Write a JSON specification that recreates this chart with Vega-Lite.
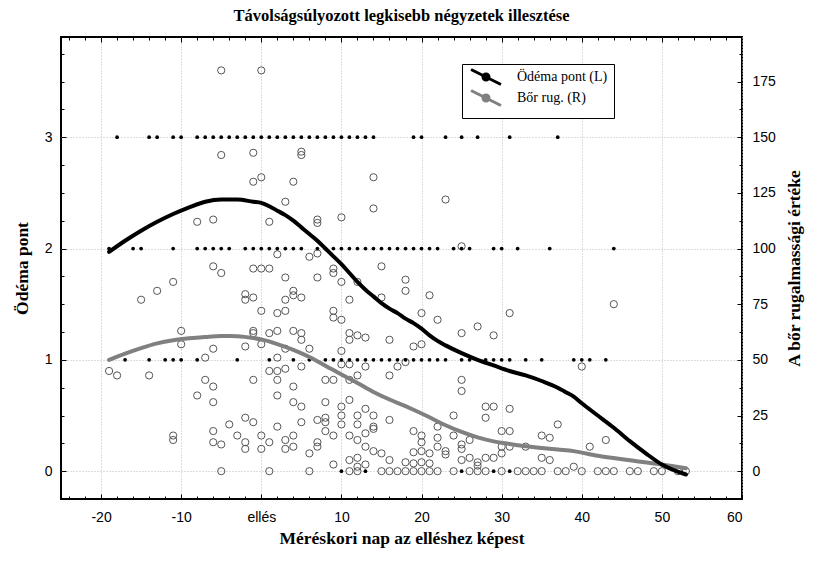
{
 "$schema": "https://vega.github.io/schema/vega-lite/v6.json",
 "width": 681, "height": 462,
 "autosize": {"type": "none"},
 "padding": {"left": 61, "top": 37, "right": 71, "bottom": 62},
 "background": "white",
 "title": {"text": "Távolságsúlyozott legkisebb négyzetek illesztése", "font": "Liberation Serif", "fontSize": 16.5, "fontWeight": "bold", "color": "black", "offset": 12},
 "config": {
  "view": {"stroke": "black", "strokeWidth": 2},
  "axis": {"labelFont": "Liberation Sans", "labelFontSize": 14, "labelColor": "black", "titleFont": "Liberation Serif", "titleFontSize": 17.5, "titleFontWeight": "bold", "titleColor": "black", "domain": false, "tickColor": "black", "gridColor": "#bbbbbb", "gridDash": [1, 2], "gridWidth": 1},
  "legend": {"orient": "none", "legendX": 401, "legendY": 27, "strokeColor": "black", "fillColor": "white", "padding": 6, "labelFont": "Liberation Serif", "labelFontSize": 14, "labelColor": "black", "symbolStrokeWidth": 3, "rowPadding": -16}
 },
 "datasets": {
  "dots": [
   {"day": -18, "score": 3}, {"day": -14, "score": 3}, {"day": -13, "score": 3}, {"day": -11, "score": 3}, {"day": -10, "score": 3},
   {"day": -8, "score": 3}, {"day": -7, "score": 3}, {"day": -6, "score": 3}, {"day": -5, "score": 3}, {"day": -4, "score": 3},
   {"day": -3, "score": 3}, {"day": -2, "score": 3}, {"day": -1, "score": 3}, {"day": 0, "score": 3}, {"day": 1, "score": 3},
   {"day": 2, "score": 3}, {"day": 3, "score": 3}, {"day": 4, "score": 3}, {"day": 5, "score": 3}, {"day": 6, "score": 3},
   {"day": 7, "score": 3}, {"day": 8, "score": 3}, {"day": 9, "score": 3}, {"day": 10, "score": 3}, {"day": 11, "score": 3},
   {"day": 12, "score": 3}, {"day": 13, "score": 3}, {"day": 14, "score": 3}, {"day": 19, "score": 3}, {"day": 20, "score": 3},
   {"day": 23, "score": 3}, {"day": 25, "score": 3}, {"day": 27, "score": 3}, {"day": 31, "score": 3}, {"day": 37, "score": 3},
   {"day": -19, "score": 2}, {"day": -16, "score": 2}, {"day": -15, "score": 2}, {"day": -11, "score": 2}, {"day": -8, "score": 2},
   {"day": -7, "score": 2}, {"day": -6, "score": 2}, {"day": -5, "score": 2}, {"day": -4, "score": 2}, {"day": -2, "score": 2},
   {"day": -1, "score": 2}, {"day": 0, "score": 2}, {"day": 1, "score": 2}, {"day": 2, "score": 2}, {"day": 3, "score": 2},
   {"day": 4, "score": 2}, {"day": 5, "score": 2}, {"day": 7, "score": 2}, {"day": 8, "score": 2}, {"day": 9, "score": 2},
   {"day": 10, "score": 2}, {"day": 11, "score": 2}, {"day": 12, "score": 2}, {"day": 13, "score": 2}, {"day": 14, "score": 2},
   {"day": 15, "score": 2}, {"day": 16, "score": 2}, {"day": 17, "score": 2}, {"day": 18, "score": 2}, {"day": 19, "score": 2},
   {"day": 20, "score": 2}, {"day": 21, "score": 2}, {"day": 22, "score": 2}, {"day": 24, "score": 2}, {"day": 25, "score": 2},
   {"day": 26, "score": 2}, {"day": 29, "score": 2}, {"day": 30, "score": 2}, {"day": 32, "score": 2}, {"day": 36, "score": 2},
   {"day": 44, "score": 2},
   {"day": -17, "score": 1}, {"day": -14, "score": 1}, {"day": -12, "score": 1}, {"day": -11, "score": 1}, {"day": -10, "score": 1},
   {"day": -8, "score": 1}, {"day": -3, "score": 1}, {"day": 1, "score": 1}, {"day": 4, "score": 1}, {"day": 6, "score": 1},
   {"day": 8, "score": 1}, {"day": 9, "score": 1}, {"day": 10, "score": 1}, {"day": 11, "score": 1}, {"day": 12, "score": 1},
   {"day": 13, "score": 1}, {"day": 14, "score": 1}, {"day": 15, "score": 1}, {"day": 16, "score": 1}, {"day": 17, "score": 1},
   {"day": 18, "score": 1}, {"day": 19, "score": 1}, {"day": 20, "score": 1}, {"day": 21, "score": 1}, {"day": 22, "score": 1},
   {"day": 23, "score": 1}, {"day": 25, "score": 1}, {"day": 26, "score": 1}, {"day": 28, "score": 1}, {"day": 29, "score": 1},
   {"day": 30, "score": 1}, {"day": 31, "score": 1}, {"day": 33, "score": 1}, {"day": 35, "score": 1}, {"day": 39, "score": 1},
   {"day": 40, "score": 1}, {"day": 41, "score": 1}, {"day": 43, "score": 1},
   {"day": 10, "score": 0}, {"day": 13, "score": 0}, {"day": 25, "score": 0}, {"day": 29, "score": 0}, {"day": 31, "score": 0}
  ],
  "circles": [
   {"day": -5, "r": 180}, {"day": 0, "r": 180},
   {"day": -5, "r": 142}, {"day": -1, "r": 143}, {"day": 5, "r": 143.5}, {"day": 5, "r": 142},
   {"day": -1, "r": 130}, {"day": 0, "r": 132}, {"day": 4, "r": 130}, {"day": 14, "r": 132},
   {"day": 3, "r": 121}, {"day": 14, "r": 118}, {"day": 23, "r": 122},
   {"day": -8, "r": 112}, {"day": -6, "r": 113}, {"day": 1, "r": 112}, {"day": 7, "r": 113}, {"day": 7, "r": 111.5}, {"day": 10, "r": 114},
   {"day": 25, "r": 101},
   {"day": 2, "r": 97.4}, {"day": 6, "r": 96.3}, {"day": 7, "r": 97.8},
   {"day": -6, "r": 92}, {"day": -5, "r": 89},
   {"day": -1, "r": 91}, {"day": 0, "r": 91}, {"day": 1, "r": 91}, {"day": 15, "r": 92}, {"day": 9, "r": 91}, {"day": 9, "r": 89},
   {"day": 3, "r": 87}, {"day": 7, "r": 87}, {"day": 10, "r": 85}, {"day": 12, "r": 85},
   {"day": 18, "r": 86}, {"day": 18, "r": 81}, {"day": 21, "r": 79}, {"day": 20, "r": 71}, {"day": 22, "r": 68}, {"day": 27, "r": 65}, {"day": 25, "r": 62}, {"day": 29, "r": 61}, {"day": 31, "r": 71},
   {"day": -11, "r": 85}, {"day": -13, "r": 81}, {"day": -15, "r": 77},
   {"day": -2, "r": 79.5}, {"day": -2, "r": 77}, {"day": -1, "r": 78}, {"day": 4, "r": 81}, {"day": 4, "r": 79}, {"day": 3, "r": 77}, {"day": 5, "r": 78}, {"day": 11, "r": 77}, {"day": 15, "r": 78},
   {"day": 0, "r": 72}, {"day": 2, "r": 71}, {"day": 3, "r": 72}, {"day": 9, "r": 72}, {"day": 9, "r": 69}, {"day": 10, "r": 68},
   {"day": -10, "r": 63}, {"day": -10, "r": 57}, {"day": -6, "r": 55}, {"day": -7, "r": 51},
   {"day": -1, "r": 63}, {"day": -1, "r": 62}, {"day": 1, "r": 62}, {"day": 2, "r": 63}, {"day": 4, "r": 63}, {"day": 5, "r": 62}, {"day": 5, "r": 59}, {"day": 11, "r": 62}, {"day": 11, "r": 59}, {"day": 12, "r": 61}, {"day": 13, "r": 60}, {"day": 16, "r": 59},
   {"day": -2, "r": 56}, {"day": 0, "r": 57}, {"day": 3, "r": 55}, {"day": 6, "r": 55}, {"day": 10, "r": 54},
   {"day": 19, "r": 56}, {"day": 20, "r": 57}, {"day": 2, "r": 51},
   {"day": 10, "r": 48}, {"day": 11, "r": 48}, {"day": 13, "r": 47}, {"day": 5, "r": 47}, {"day": 17, "r": 47}, {"day": 18, "r": 49},
   {"day": -19, "r": 45}, {"day": -18, "r": 43}, {"day": -14, "r": 43},
   {"day": 1, "r": 45}, {"day": 2, "r": 45}, {"day": 3, "r": 46},
   {"day": -7, "r": 41}, {"day": -6, "r": 38}, {"day": -8, "r": 34}, {"day": -6, "r": 31},
   {"day": -1, "r": 41}, {"day": 2, "r": 41}, {"day": 8, "r": 41}, {"day": 9, "r": 41}, {"day": 11, "r": 41}, {"day": 12, "r": 43}, {"day": 16, "r": 43},
   {"day": 25, "r": 41}, {"day": 25, "r": 36},
   {"day": 4, "r": 38}, {"day": 2, "r": 34},
   {"day": 4, "r": 31}, {"day": 5, "r": 29}, {"day": 8, "r": 31}, {"day": 10, "r": 29}, {"day": 11, "r": 32}, {"day": 13, "r": 28},
   {"day": 28, "r": 29}, {"day": 29, "r": 29}, {"day": 28, "r": 24}, {"day": 31, "r": 28}, {"day": 24, "r": 25},
   {"day": 10, "r": 25}, {"day": 12, "r": 25}, {"day": 14, "r": 25},
   {"day": -2, "r": 24}, {"day": -1, "r": 22}, {"day": -4, "r": 21}, {"day": 2, "r": 20}, {"day": 5, "r": 22}, {"day": 7, "r": 23}, {"day": 8, "r": 24}, {"day": 8, "r": 22}, {"day": 10, "r": 21}, {"day": 12, "r": 21}, {"day": 14, "r": 20}, {"day": 14, "r": 19}, {"day": 16, "r": 23},
   {"day": 37, "r": 21},
   {"day": -11, "r": 16}, {"day": -11, "r": 14}, {"day": -6, "r": 18}, {"day": -6, "r": 13}, {"day": -5, "r": 12},
   {"day": -3, "r": 16}, {"day": -2, "r": 13}, {"day": -2, "r": 10}, {"day": 0, "r": 16}, {"day": 1, "r": 13}, {"day": 0, "r": 10}, {"day": 3, "r": 14}, {"day": 3, "r": 10}, {"day": 4, "r": 16}, {"day": 4, "r": 11}, {"day": 7, "r": 13}, {"day": 7, "r": 11}, {"day": 8, "r": 18}, {"day": 9, "r": 16}, {"day": 11, "r": 16}, {"day": 12, "r": 14}, {"day": 13, "r": 17}, {"day": 13, "r": 11},
   {"day": 14, "r": 9}, {"day": 15, "r": 8}, {"day": 16, "r": 5},
   {"day": 6, "r": 8}, {"day": 9, "r": 3}, {"day": 11, "r": 5}, {"day": 12, "r": 6}, {"day": 12, "r": 2}, {"day": 13, "r": 3},
   {"day": 19, "r": 18}, {"day": 20, "r": 16}, {"day": 20, "r": 13}, {"day": 22, "r": 20}, {"day": 22, "r": 15}, {"day": 22, "r": 11}, {"day": 23, "r": 9}, {"day": 23, "r": 7.5}, {"day": 21, "r": 8}, {"day": 21, "r": 3.5}, {"day": 20, "r": 9}, {"day": 20, "r": 4}, {"day": 19, "r": 8.5}, {"day": 19, "r": 3.5}, {"day": 18, "r": 4},
   {"day": 24, "r": 16}, {"day": 25, "r": 12}, {"day": 25, "r": 10}, {"day": 26, "r": 14}, {"day": 25, "r": 5}, {"day": 26, "r": 6}, {"day": 27, "r": 4}, {"day": 27, "r": 2.5}, {"day": 28, "r": 6}, {"day": 29, "r": 6}, {"day": 30, "r": 8}, {"day": 30, "r": 11}, {"day": 31, "r": 11}, {"day": 30, "r": 18}, {"day": 31, "r": 18}, {"day": 33, "r": 11}, {"day": 35, "r": 16}, {"day": 36, "r": 15}, {"day": 35, "r": 6}, {"day": 36, "r": 5}, {"day": 39, "r": 2},
   {"day": 44, "r": 75}, {"day": 40, "r": 47}, {"day": 43, "r": 14}, {"day": 41, "r": 11},
   {"day": -5, "r": 0}, {"day": 1, "r": 0}, {"day": 6, "r": 0}, {"day": 11, "r": 0}, {"day": 12, "r": 0}, {"day": 15, "r": 0}, {"day": 16, "r": 0}, {"day": 17, "r": 0}, {"day": 18, "r": 0}, {"day": 19, "r": 0}, {"day": 20, "r": 0}, {"day": 21, "r": 0}, {"day": 22, "r": 0}, {"day": 24, "r": 0}, {"day": 26, "r": 0}, {"day": 27, "r": 0}, {"day": 28, "r": 0}, {"day": 30, "r": 0}, {"day": 32, "r": 0}, {"day": 33, "r": 0}, {"day": 34, "r": 0}, {"day": 35, "r": 0}, {"day": 37, "r": 0}, {"day": 38, "r": 0}, {"day": 40, "r": 0}, {"day": 42, "r": 0}, {"day": 43, "r": 0}, {"day": 44, "r": 0}, {"day": 46, "r": 0}, {"day": 47, "r": 0}, {"day": 49, "r": 0}, {"day": 50, "r": 0}, {"day": 52, "r": 0}, {"day": 53, "r": 0}
  ],
  "oedemaFit": [
   {"day": -19, "score": 1.97}, {"day": -17, "score": 2.07}, {"day": -15, "score": 2.16}, {"day": -13, "score": 2.24}, {"day": -11, "score": 2.31},
   {"day": -9, "score": 2.37}, {"day": -7, "score": 2.42}, {"day": -5, "score": 2.44}, {"day": -3, "score": 2.44}, {"day": -1, "score": 2.42},
   {"day": 0, "score": 2.41}, {"day": 1, "score": 2.38}, {"day": 2, "score": 2.34}, {"day": 3, "score": 2.3}, {"day": 4, "score": 2.25},
   {"day": 5, "score": 2.19}, {"day": 6, "score": 2.13}, {"day": 7, "score": 2.07}, {"day": 8, "score": 2.0}, {"day": 9, "score": 1.93},
   {"day": 10, "score": 1.86}, {"day": 11, "score": 1.78}, {"day": 12, "score": 1.7}, {"day": 13, "score": 1.63}, {"day": 14, "score": 1.57},
   {"day": 15, "score": 1.51}, {"day": 16, "score": 1.46}, {"day": 17, "score": 1.42}, {"day": 18, "score": 1.37}, {"day": 19, "score": 1.33},
   {"day": 20, "score": 1.28}, {"day": 21, "score": 1.22}, {"day": 22, "score": 1.17}, {"day": 23, "score": 1.13}, {"day": 25, "score": 1.06},
   {"day": 27, "score": 1.0}, {"day": 29, "score": 0.95}, {"day": 31, "score": 0.9}, {"day": 33, "score": 0.86}, {"day": 35, "score": 0.81},
   {"day": 37, "score": 0.75}, {"day": 38, "score": 0.71}, {"day": 39, "score": 0.67}, {"day": 40, "score": 0.61}, {"day": 42, "score": 0.5},
   {"day": 44, "score": 0.39}, {"day": 46, "score": 0.27}, {"day": 48, "score": 0.16}, {"day": 50, "score": 0.06}, {"day": 53, "score": -0.03}
  ],
  "skinFit": [
   {"day": -19, "r": 50}, {"day": -17, "r": 52.8}, {"day": -15, "r": 55.3}, {"day": -13, "r": 57.4}, {"day": -11, "r": 58.8},
   {"day": -9, "r": 59.7}, {"day": -7, "r": 60.3}, {"day": -5, "r": 60.7}, {"day": -4, "r": 60.7}, {"day": -3, "r": 60.6},
   {"day": -1, "r": 59.8}, {"day": 0, "r": 59.2}, {"day": 2, "r": 57.1}, {"day": 4, "r": 54.5}, {"day": 6, "r": 51.3},
   {"day": 8, "r": 47.4}, {"day": 10, "r": 43.4}, {"day": 12, "r": 39.6}, {"day": 14, "r": 35.6}, {"day": 16, "r": 32.2},
   {"day": 18, "r": 29.2}, {"day": 19, "r": 27.6}, {"day": 21, "r": 24.2}, {"day": 23, "r": 20.6}, {"day": 25, "r": 17.6},
   {"day": 27, "r": 15.2}, {"day": 29, "r": 13.4}, {"day": 31, "r": 12.2}, {"day": 33, "r": 11.2}, {"day": 35, "r": 10.4},
   {"day": 37, "r": 9.7}, {"day": 39, "r": 9.0}, {"day": 42, "r": 6.9}, {"day": 46, "r": 4.9}, {"day": 50, "r": 3.0}, {"day": 53, "r": 1.3}
  ]
 },
 "layer": [
  {
   "data": {"name": "circles"},
   "mark": {"type": "point", "filled": false, "stroke": "#555555", "strokeWidth": 1, "size": 52, "opacity": 1},
   "encoding": {
    "x": {"field": "day", "type": "quantitative", "scale": {"domain": [-25, 60], "nice": false, "zero": false},
          "axis": {"orient": "top", "values": [-20, -10, 0, 10, 20, 30, 40, 50], "labels": false, "tickSize": -5, "grid": false, "title": null}},
    "y": {"field": "r", "type": "quantitative", "scale": {"domain": [-12.5, 195], "nice": false, "zero": false},
          "axis": {"orient": "right", "values": [0, 25, 50, 75, 100, 125, 150, 175], "tickSize": -5, "labelPadding": 15, "grid": false, "title": "A bőr rugalmassági értéke", "titleAngle": -90, "titlePadding": 28}}
   }
  },
  {
   "data": {"name": "dots"},
   "mark": {"type": "circle", "color": "black", "size": 14, "opacity": 1},
   "encoding": {
    "x": {"field": "day", "type": "quantitative", "scale": {"domain": [-25, 60], "nice": false, "zero": false},
          "axis": {"orient": "bottom", "values": [-20, -10, 0, 10, 20, 30, 40, 50, 60], "tickSize": -5, "labelPadding": 16, "grid": true,
                   "labelExpr": "datum.value === 0 ? 'ellés' : '' + datum.value", "title": "Méréskori nap az elléshez képest", "titlePadding": 5}},
    "y": {"field": "score", "type": "quantitative", "scale": {"domain": [-0.25, 3.9], "nice": false, "zero": false},
          "axis": {"orient": "left", "values": [0, 1, 2, 3], "tickSize": -5, "labelPadding": 14, "grid": true, "title": "Ödéma pont", "titlePadding": 13}}
   }
  },
  {
   "data": {"name": "skinFit"},
   "mark": {"type": "line", "strokeWidth": 4, "interpolate": "monotone", "strokeCap": "round"},
   "encoding": {
    "x": {"field": "day", "type": "quantitative", "scale": {"domain": [-25, 60], "nice": false, "zero": false},
          "axis": {"orient": "top", "values": [-24, -22, -18, -16, -14, -12, -8, -6, -4, -2, 2, 4, 6, 8, 12, 14, 16, 18, 22, 24, 26, 28, 32, 34, 36, 38, 42, 44, 46, 48, 52, 54, 56, 58], "labels": false, "tickSize": -3, "grid": false, "title": null}},
    "y": {"field": "r", "type": "quantitative", "scale": {"domain": [-12.5, 195], "nice": false, "zero": false},
          "axis": {"orient": "right", "values": [12.5, 37.5, 62.5, 87.5, 112.5, 137.5, 162.5, 187.5], "labels": false, "tickSize": -3, "grid": false, "title": null}},
    "color": {"datum": "Bőr rug. (R)", "type": "nominal", "scale": {"domain": ["Ödéma pont (L)", "Bőr rug. (R)"], "range": ["#000000", "#808080"]},
              "legend": {"title": null, "symbolType": "M-4,-2L4,2M0.8,0A0.8,0.8,0,1,1,-0.8,0A0.8,0.8,0,1,1,0.8,0Z", "symbolSize": 56, "symbolFillColor": "transparent", "symbolStrokeWidth": 3, "symbolOffset": 11, "labelOffset": 24}}
   }
  },
  {
   "data": {"name": "oedemaFit"},
   "mark": {"type": "line", "strokeWidth": 4, "interpolate": "monotone", "strokeCap": "round"},
   "encoding": {
    "x": {"field": "day", "type": "quantitative", "scale": {"domain": [-25, 60], "nice": false, "zero": false},
          "axis": {"orient": "bottom", "values": [-24, -22, -18, -16, -14, -12, -8, -6, -4, -2, 2, 4, 6, 8, 12, 14, 16, 18, 22, 24, 26, 28, 32, 34, 36, 38, 42, 44, 46, 48, 52, 54, 56, 58], "labels": false, "tickSize": -3, "grid": false, "title": null}},
    "y": {"field": "score", "type": "quantitative", "scale": {"domain": [-0.25, 3.9], "nice": false, "zero": false},
          "axis": {"orient": "left", "values": [0.25, 0.5, 0.75, 1.25, 1.5, 1.75, 2.25, 2.5, 2.75, 3.25, 3.5, 3.75], "labels": false, "tickSize": -3, "grid": false, "title": null}},
    "color": {"datum": "Ödéma pont (L)", "type": "nominal", "scale": {"domain": ["Ödéma pont (L)", "Bőr rug. (R)"], "range": ["#000000", "#808080"]},
              "legend": {"title": null, "symbolType": "M-4,-2L4,2M0.8,0A0.8,0.8,0,1,1,-0.8,0A0.8,0.8,0,1,1,0.8,0Z", "symbolSize": 56, "symbolFillColor": "transparent", "symbolStrokeWidth": 3, "symbolOffset": 11, "labelOffset": 24}}
   }
  }
 ],
 "resolve": {"scale": {"y": "independent"}, "axis": {"x": "independent", "y": "independent"}}
}
